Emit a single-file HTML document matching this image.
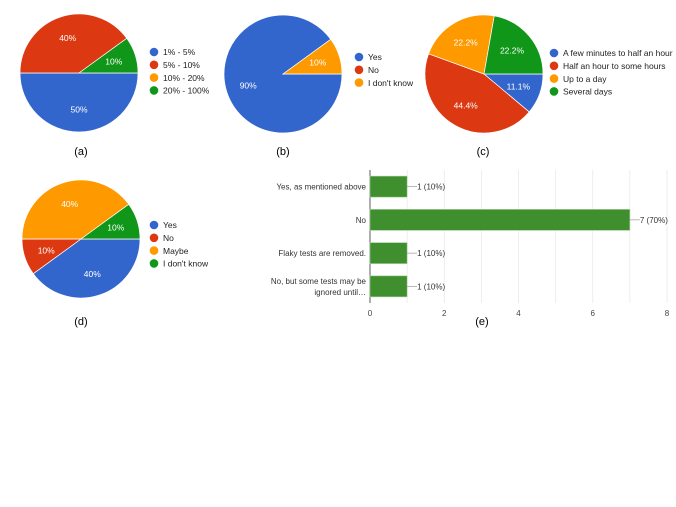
<!DOCTYPE html>
<html><head><meta charset="utf-8"><style>
body{margin:0;background:#fff;width:676px;height:507px;overflow:hidden;font-family:"Liberation Sans",Arial,sans-serif}
svg{display:block}
</style></head><body>
<svg id="s" width="676" height="507" xmlns="http://www.w3.org/2000/svg" font-family="Liberation Sans, Arial, sans-serif"></svg>
<script>
const COLORS=["#3366cc","#dc3912","#ff9900","#109618"];
const pieAValues=[50,40,0,10];
const pieALabels=["1% - 5%","5% - 10%","10% - 20%","20% - 100%"];
const pieBValues=[90,0,10];
const pieBLabels=["Yes","No","I don't know"];
const pieCValues=[11.1,44.4,22.2,22.2];
const pieCLabels=["A few minutes to half an hour","Half an hour to some hours","Up to a day","Several days"];
const pieDValues=[40,10,40,10];
const pieDLabels=["Yes","No","Maybe","I don't know"];
const barCategories=["Yes, as mentioned above","No","Flaky tests are removed.","No, but some tests may be|ignored until…"];
const barValues=[1,7,1,1];
const barValueLabels=["1 (10%)","7 (70%)","1 (10%)","1 (10%)"];
const barTicks=[0,2,4,6,8];

const S=document.getElementById('s');
const NS="http://www.w3.org/2000/svg";
function mk(t,a,p){const e=document.createElementNS(NS,t);for(const k in a)e.setAttribute(k,a[k]);(p||S).appendChild(e);return e;}

function pie(name,cx,cy,r,vals,labels,lx,ly,caption,capx,capy){
  const g=mk('g',{});
  
  
  const tot=vals.reduce((a,b)=>a+b,0);
  let a0=0;
  vals.forEach((v,i)=>{
    if(v<=0)return;
    const a1=a0+v/tot*2*Math.PI;
    const x0=cx+r*Math.cos(a0),y0=cy+r*Math.sin(a0),x1=cx+r*Math.cos(a1),y1=cy+r*Math.sin(a1);
    const large=(a1-a0)>Math.PI?1:0;
    const p=mk('path',{d:`M${cx},${cy}L${x0},${y0}A${r},${r} 0 ${large} 1 ${x1},${y1}Z`,fill:COLORS[i],stroke:'#fff','stroke-width':0.7},g);
    
    
    const am=(a0+a1)/2;
    const t=mk('text',{x:cx+r*0.62*Math.cos(am),y:cy+r*0.62*Math.sin(am)+3,'text-anchor':'middle','font-size':8.5,fill:'#fff'},g);
    t.textContent=(Math.round(v/tot*1000)/10)+'%';
    
    
    a0=a1;
  });
  labels.forEach((l,i)=>{
    const c=mk('circle',{cx:lx,cy:ly+i*12.8,r:4.3,fill:COLORS[i]},g);
    
    
    const t=mk('text',{x:lx+9,y:ly+i*12.8+3.2,'font-size':8.5,fill:'#222'},g);
    t.textContent=l;
    
    
  });
  const c=mk('text',{x:capx,y:capy,'text-anchor':'middle','font-size':11,fill:'#000'},g);
  c.textContent=caption;
  
  
}
pie('pie-a',79,73,59,pieAValues,pieALabels,154,52,'(a)',81,155);
pie('pie-b',283,74,59,pieBValues,pieBLabels,359,57,'(b)',283,155);
pie('pie-c',484,74,59,pieCValues,pieCLabels,554,53,'(c)',483,155);
pie('pie-d',81,239,59,pieDValues,pieDLabels,154,225,'(d)',81,325);

// bar chart
const bg=mk('g',{});


const X0=370,X1=667,YT=170,YB=303;
const xs=v=>X0+(X1-X0)*v/8;
for(let k=1;k<=8;k++){
  const l=mk('line',{x1:xs(k),x2:xs(k),y1:YT,y2:YB,stroke:'#e6e6e6','stroke-width':0.7},bg);
  
  
}
const ax=mk('line',{x1:X0,x2:X0,y1:YT,y2:YB,stroke:'#333','stroke-width':0.8},bg);


barTicks.forEach(t=>{
  const e=mk('text',{x:xs(t),y:316,'text-anchor':'middle','font-size':8,fill:'#444'},bg);
  e.textContent=t;
  
  
});
const band=(YB-YT)/barCategories.length;
barCategories.forEach((c,i)=>{
  const cy=YT+band*(i+0.5);
  const r=mk('rect',{x:X0,y:cy-10.5,width:xs(barValues[i])-X0,height:21,fill:'#3f8f2f',stroke:'#a8cf9f','stroke-width':0.6},bg);
  
  
  const ln=mk('line',{x1:xs(barValues[i]),x2:xs(barValues[i])+10,y1:cy,y2:cy,stroke:'#888','stroke-width':0.6},bg);
  
  
  const v=mk('text',{x:xs(barValues[i])+10,y:cy+3,'font-size':8,fill:'#333'},bg);
  v.textContent=barValueLabels[i];
  
  
  const parts=c.split('|');
  parts.forEach((p,j)=>{
    const t=mk('text',{x:366,y:cy+3+(j-(parts.length-1)/2)*11,'text-anchor':'end','font-size':8,fill:'#333'},bg);
    t.textContent=p;
    
    
  });
});
const ce=mk('text',{x:482,y:325,'text-anchor':'middle','font-size':11,fill:'#000'},bg);
ce.textContent='(e)';


</script>
</body></html>
